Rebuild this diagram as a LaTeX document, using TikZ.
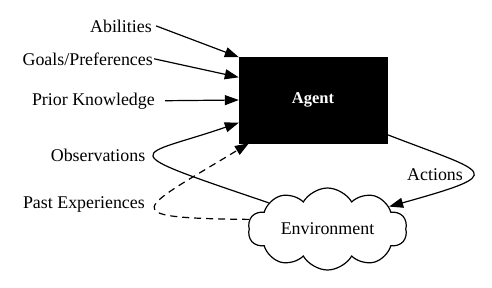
\documentclass[tikz,border=0pt]{standalone}
\usepackage{fontspec}
\setmainfont{Liberation Serif}
\usepackage{xcolor}
\definecolor{cInk}{HTML}{000000}
\usepackage{tikz}
\usetikzlibrary{arrows.meta,shapes.symbols}
\newcommand{\lblsize}{\fontsize{17.9pt}{21pt}\selectfont}
\tikzset{
  node-agent/.style={draw=cInk,fill=cInk,text=white,inner sep=0pt,
    minimum width=148pt,minimum height=86pt,
    font={\fontsize{16.5pt}{19pt}\selectfont\bfseries}},
  node-env/.style={draw=cInk,line width=1.2pt,fill=white,cloud,cloud puffs=10,
    cloud puff arc=120,cloud ignores aspect,minimum width=159pt,
    minimum height=82pt,inner sep=0pt,font=\lblsize},
  node-label/.style={inner sep=0pt,font=\lblsize},
  arrow/.style={-{Triangle[length=14pt,width=10pt]},line width=1.2pt,draw=cInk},
  arrow-dashed/.style={arrow,dash pattern=on 7pt off 5pt},
}
\begin{document}
\begin{tikzpicture}[x=1pt,y=-1pt]
  \useasboundingbox (0,0) rectangle (492,287);
  \node[node-agent] (agent) at (313,100) {Agent};
  \node[node-env]   (env)   at (327.5,229) {\makebox[0pt]{Environment}};
  % inputs on the left
  \node[node-label,anchor=base east] (abil)  at (152,32)  {Abilities};
  \node[node-label,anchor=base east] (goals) at (153,65)  {Goals/Preferences};
  \node[node-label,anchor=base east] (prior) at (155,105) {Prior Knowledge};
  \node[node-label,anchor=base east] (obs)   at (145.5,161) {Observations};
  \node[node-label,anchor=base east] (past)  at (145,208) {Past Experiences};
  \node[node-label,anchor=base west] (act)   at (407,180) {Actions};
  \draw[arrow] ([xshift=4pt]abil.east)   -- (agent.150);
  \draw[arrow] ([xshift=1pt]goals.east)  -- (agent.163);
  \draw[arrow] ([xshift=10pt]prior.east) -- (agent.west);
  % loops between agent and environment
  \draw[arrow] (env.156) .. controls (107,148) and (136,158) .. (agent.197);
  \draw[arrow-dashed] (env.173) .. controls (110,218) and (139,210) .. (agent.214);
  \draw[arrow] (agent.-25) .. controls (489,174) and (511,172.5) .. (env.20);
\end{tikzpicture}
\end{document}
